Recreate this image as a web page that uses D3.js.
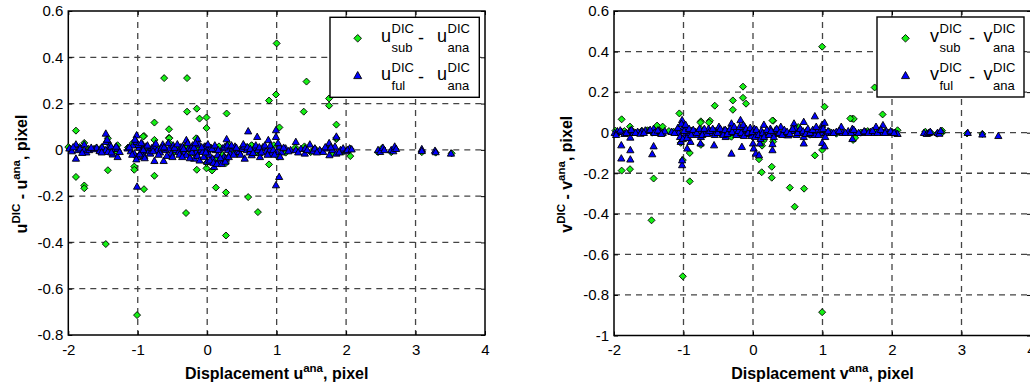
<!DOCTYPE html>
<html>
<head>
<meta charset="utf-8">
<script src="https://cdn.jsdelivr.net/npm/d3@7"></script>
<style>
  body { margin: 0; background: #fff; }
  svg { display: block; font-family: "Liberation Sans", Arial, sans-serif; }
</style>
</head>
<body>
<svg id="chart" width="1030" height="387"></svg>
<script>
const xTicks = [-2, -1, 0, 1, 2, 3, 4];
const uTicks = [-0.8, -0.6, -0.4, -0.2, 0, 0.2, 0.4, 0.6];
const vTicks = [-1, -0.8, -0.6, -0.4, -0.2, 0, 0.2, 0.4, 0.6];

// u panel, subset DIC - analytic (green diamonds)
const uSub = [
  [1.00,0.46],[-0.62,0.31],[-0.29,0.31],[1.43,0.295],[0.99,0.239],[0.89,0.213],[1.755,0.222],[1.755,0.191],
  [1.39,0.165],[-0.29,0.165],[-0.15,0.178],[-0.11,0.135],[-0.01,0.14],[0.28,0.157],[-0.76,0.118],[-0.01,0.094],
  [-0.55,0.089],[1.86,0.109],[-1.89,0.083],[1.04,0.097],[-0.91,0.06],[-0.55,0.052],[1.86,0.046],[-1.43,-0.088],
  [-1.05,-0.072],[-1.05,-0.086],[-0.15,-0.086],[0.07,-0.089],[-1.89,-0.117],[-0.76,-0.112],[-1.77,-0.154],
  [-1.77,-0.166],[-0.91,-0.17],[0.125,-0.163],[0.27,-0.184],[0.59,-0.204],[-0.305,-0.273],[0.73,-0.269],
  [0.27,-0.37],[-1.46,-0.407],[-1.01,-0.714],[0.89,-0.063],[2.06,-0.027],[-0.01,-0.08],[-0.01,-0.057],
  [0.27,-0.057],[0.64,0.019],
  [-2.0,0.012],[-1.97,0.005],[-1.84,0.012],[-1.77,0.03],[-1.71,0.005],[-1.6,0.008],[-1.52,0.01],[-1.43,0.05],
  [-1.43,0.03],[-1.40,-0.01],[-1.35,0.0],[-1.29,0.02],[-1.29,-0.01],[-1.14,0.01],[-1.07,0.03],[-1.05,-0.022],
  [-1.01,0.02],[-0.92,0.058],[-0.92,-0.008],[-0.85,0.005],[-0.76,0.043],[-0.70,0.0],[-0.547,0.05],[-0.547,0.03],
  [-0.49,-0.01],[-0.41,0.012],[-0.35,-0.005],[-0.30,0.02],[-0.23,-0.015],[-0.16,0.05],[-0.12,0.0],[-0.02,-0.022],
  [0.05,0.01],[0.12,-0.037],[0.17,0.015],[0.22,-0.022],[0.3,0.024],[0.36,-0.01],[0.44,-0.015],[0.5,0.008],
  [0.56,0.012],[0.64,0.02],[0.7,-0.012],[0.76,-0.02],[0.82,0.01],[0.9,-0.01],[0.96,0.02],[1.02,-0.03],[1.08,0.0],
  [1.13,-0.012],[1.27,0.01],[1.4,0.015],[1.49,-0.01],[1.55,0.005],[1.63,-0.005],[1.72,0.01],[1.8,-0.015],
  [1.86,0.052],[1.96,-0.008],[2.06,0.005],[2.46,-0.01],[2.52,0.008],[2.65,-0.01],[2.7,0.005],[3.09,-0.01],
  [3.29,-0.012],[3.52,-0.015]
];

// u panel, full-field DIC - analytic (blue triangles)
const uFul = [
  [-1.985,0.007],[-1.95,-0.005],[-1.89,0.024],[-1.89,-0.037],[-1.86,0.0],[-1.83,0.007],[-1.77,0.024],[-1.77,0.0],
  [-1.74,-0.01],[-1.70,0.0],[-1.63,0.004],[-1.59,0.01],[-1.55,-0.004],[-1.515,0.012],[-1.46,0.071],[-1.46,0.035],
  [-1.46,0.0],[-1.43,-0.008],[-1.40,0.02],[-1.385,0.015],[-1.36,-0.019],[-1.33,0.005],[-1.29,-0.03],[-1.29,0.007],
  [-1.26,-0.008],[-1.145,0.007],[-1.10,-0.005],[-1.07,0.02],[-1.05,-0.015],[-1.016,0.064],[-1.016,0.035],
  [-1.01,-0.158],[-1.0,-0.03],[-0.98,0.01],[-0.954,-0.008],[-0.93,0.025],[-0.906,-0.025],[-0.88,0.015],
  [-0.84,-0.005],[-0.80,0.008],[-0.77,0.015],[-0.76,-0.047],[-0.72,0.0],[-0.68,-0.01],[-0.64,0.024],
  [-0.627,-0.047],[-0.60,0.0],[-0.547,0.007],[-0.52,-0.015],[-0.49,0.02],[-0.45,0.0],[-0.41,-0.008],[-0.38,0.012],
  [-0.355,0.015],[-0.33,-0.01],[-0.30,0.043],[-0.30,-0.022],[-0.27,0.005],[-0.235,0.007],[-0.21,0.02],
  [-0.187,-0.037],[-0.16,-0.01],[-0.138,0.047],[-0.12,0.024],[-0.09,0.0],[-0.066,-0.008],[-0.04,0.015],
  [-0.019,0.015],[0.0,-0.051],[0.0,0.0],[0.03,-0.02],[0.05,0.01],[0.078,-0.037],[0.10,-0.073],[0.12,0.0],
  [0.15,-0.022],[0.17,-0.045],[0.197,-0.051],[0.22,0.007],[0.24,-0.03],[0.28,0.047],[0.27,-0.037],[0.3,0.0],
  [0.33,-0.015],[0.366,0.007],[0.40,0.015],[0.43,-0.01],[0.46,-0.008],[0.5,0.005],[0.53,0.015],[0.54,-0.037],
  [0.57,0.0],[0.59,0.081],[0.61,-0.01],[0.64,-0.022],[0.68,0.01],[0.72,0.057],[0.73,0.0],[0.76,-0.03],[0.80,0.012],
  [0.85,-0.005],[0.88,0.043],[0.90,0.0],[0.93,-0.015],[0.99,0.086],[0.99,0.057],[1.0,-0.007],[0.99,-0.152],
  [1.036,-0.116],[1.04,0.015],[1.07,-0.01],[1.13,0.007],[1.2,0.0],[1.276,0.035],[1.276,0.0],[1.35,0.005],
  [1.406,-0.015],[1.41,0.007],[1.478,0.024],[1.52,-0.005],[1.55,0.007],[1.62,0.0],[1.67,-0.008],[1.727,0.007],
  [1.756,0.03],[1.76,-0.022],[1.80,0.0],[1.84,0.015],[1.86,0.058],[1.86,-0.015],[1.92,0.0],[1.957,0.007],
  [2.0,-0.005],[2.05,0.007],[2.46,0.0],[2.49,-0.008],[2.53,0.01],[2.55,0.0],[2.65,0.0],[2.68,-0.005],[2.70,0.015],
  [2.72,0.005],[3.09,0.004],[3.09,-0.004],[3.28,-0.003],[3.29,-0.009],[3.51,-0.015],
  [-1.93,0.012],[-1.80,-0.012],[-1.67,0.01],[-1.52,-0.01],[-1.44,0.045],[-1.38,-0.01],[-1.31,0.015],[-1.12,0.012],
  [-1.08,-0.02],[-1.04,0.045],[-1.02,-0.04],[-0.99,0.022],[-0.97,-0.018],[-0.95,0.03],[-0.92,0.0],[-0.9,-0.035],
  [-0.86,0.02],[-0.82,-0.015],[-0.78,-0.005],[-0.74,0.028],[-0.7,-0.02],[-0.66,0.008],[-0.62,0.012],[-0.58,-0.025],
  [-0.56,0.03],[-0.5,-0.03],[-0.47,0.01],[-0.43,0.025],[-0.4,-0.02],[-0.36,-0.03],[-0.34,0.005],[-0.28,0.03],
  [-0.25,-0.035],[-0.22,-0.01],[-0.19,0.01],[-0.17,0.03],[-0.14,-0.025],[-0.11,-0.045],[-0.08,0.012],[-0.05,-0.03],
  [-0.02,-0.01],[0.01,0.025],[0.04,-0.045],[0.07,0.005],[0.09,-0.055],[0.11,0.02],[0.14,-0.06],[0.16,0.0],
  [0.19,-0.035],[0.21,-0.06],[0.25,0.012],[0.26,-0.05],[0.29,0.02],[0.31,-0.03],[0.35,0.02],[0.38,-0.02],
  [0.42,0.01],[0.48,-0.02],[0.52,0.025],[0.58,0.012],[0.62,0.005],[0.66,-0.012],[0.7,0.02],[0.75,0.012],
  [0.78,-0.01],[0.83,0.02],[0.87,-0.02],[0.91,0.02],[0.95,0.0],[0.97,-0.02],[1.02,0.03],[1.05,-0.03],[1.1,0.01],
  [1.17,-0.005],[1.31,-0.01],[1.44,0.0],[1.58,-0.01],[1.7,0.012],[1.78,0.012],[1.9,-0.01],[2.02,0.0],[2.08,0.003]
];

// v panel, subset DIC - analytic (green diamonds)
const vSub = [
  [0.995,0.424],[-0.144,0.227],[-0.144,0.172],[-0.10,0.143],[-0.29,0.159],[-0.29,0.113],[-0.55,0.133],
  [1.75,0.223],[1.03,0.128],[-1.06,0.095],[1.865,0.09],[-1.89,0.066],[-0.62,0.059],[-0.75,0.056],[0.29,0.059],
  [1.43,0.069],[1.45,0.068],[-1.77,0.03],[-1.38,0.035],[-1.30,0.03],[0.89,-0.112],[0.995,-0.085],[-1.01,-0.135],
  [-0.91,-0.10],[-0.91,-0.24],[-1.89,-0.187],[-1.77,-0.18],[-1.43,-0.226],[-1.46,-0.432],[-1.01,-0.708],
  [0.995,-0.885],[0.086,-0.131],[0.125,-0.195],[0.27,-0.168],[0.27,-0.222],[0.53,-0.271],[0.735,-0.276],
  [0.60,-0.365],[-0.75,-0.06],[0.13,-0.064],[1.44,-0.036],[0.29,-0.044],[-1.04,-0.05],[0.15,-0.04],
  [-1.98,0.01],[-1.93,0.0],[-1.85,0.008],[-1.72,0.005],[-1.60,0.01],[-1.52,0.012],[-1.45,0.0],[-1.33,0.005],
  [-1.21,0.008],[-1.14,0.005],[-1.07,0.0],[-0.98,0.015],[-0.86,0.005],[-0.755,0.02],[-0.755,0.05],[-0.635,0.05],
  [-0.56,0.01],[-0.47,-0.005],[-0.39,0.01],[-0.31,-0.02],[-0.25,0.005],[-0.2,0.015],[-0.08,0.0],[0.0,0.01],
  [0.06,-0.01],[0.2,0.005],[0.28,0.06],[0.35,0.005],[0.45,-0.01],[0.58,0.01],[0.65,0.028],[0.75,0.0],[0.82,-0.01],
  [0.9,0.01],[1.1,0.005],[1.2,-0.005],[1.40,0.07],[1.47,-0.025],[1.55,0.0],[1.65,0.008],[1.78,0.01],[1.9,0.005],
  [2.08,0.012],[2.48,0.005],[2.56,0.0],[2.65,-0.005],[2.72,0.01],[2.72,0.0],[3.08,-0.004],[3.3,-0.006]
];

// v panel, full-field DIC - analytic (blue triangles)
const vFul = [
  [-1.99,0.0],[-1.95,0.008],[-1.895,-0.061],[-1.895,-0.126],[-1.89,0.005],[-1.85,-0.005],[-1.77,0.01],
  [-1.765,-0.085],[-1.765,-0.131],[-1.765,-0.023],[-1.72,0.0],[-1.66,0.005],[-1.60,0.008],[-1.55,0.012],
  [-1.50,0.01],[-1.45,-0.105],[-1.43,-0.066],[-1.43,0.02],[-1.40,0.0],[-1.35,0.01],[-1.30,0.0],[-1.27,0.008],
  [-1.17,0.005],[-1.10,0.01],[-1.07,0.0],[-1.04,-0.044],[-1.02,-0.159],[-1.02,-0.135],[-1.02,0.063],[-1.0,0.03],
  [-0.98,-0.01],[-0.96,0.02],[-0.947,-0.077],[-0.93,0.0],[-0.90,-0.044],[-0.88,0.01],[-0.83,0.005],[-0.79,-0.01],
  [-0.755,-0.052],[-0.75,-0.02],[-0.72,0.01],[-0.68,0.0],[-0.64,0.02],[-0.60,0.0],[-0.56,-0.061],[-0.53,0.01],
  [-0.49,0.03],[-0.45,0.0],[-0.42,0.012],[-0.394,-0.02],[-0.36,0.005],[-0.31,-0.102],[-0.31,0.046],[-0.28,0.0],
  [-0.25,0.015],[-0.22,-0.01],[-0.18,0.063],[-0.16,-0.069],[-0.15,0.01],[-0.12,0.03],[-0.09,-0.005],[-0.05,0.01],
  [-0.02,-0.015],[0.0,-0.052],[0.01,-0.077],[0.02,0.02],[0.04,-0.102],[0.06,0.0],[0.087,-0.11],[0.10,-0.052],
  [0.12,0.01],[0.157,0.04],[0.18,-0.01],[0.22,0.005],[0.25,0.02],[0.28,-0.085],[0.28,-0.055],[0.28,0.0],
  [0.32,0.012],[0.36,-0.005],[0.40,0.03],[0.43,0.0],[0.47,0.0],[0.51,-0.012],[0.55,0.01],[0.59,0.046],[0.61,0.02],
  [0.63,-0.01],[0.66,0.01],[0.70,0.0],[0.73,0.054],[0.73,-0.052],[0.73,-0.02],[0.77,0.01],[0.80,0.0],[0.84,-0.008],
  [0.89,0.082],[0.89,0.0],[0.89,-0.01],[0.93,0.012],[0.996,-0.049],[0.996,0.04],[1.0,0.0],[1.03,-0.066],
  [1.03,0.05],[1.05,0.0],[1.13,0.0],[1.2,0.005],[1.27,0.03],[1.29,0.0],[1.37,0.008],[1.43,0.02],[1.43,-0.03],
  [1.47,0.005],[1.57,0.0],[1.62,0.004],[1.69,0.005],[1.74,0.0],[1.77,0.03],[1.82,0.01],[1.87,0.038],[1.87,0.0],
  [1.92,0.008],[1.955,0.0],[2.0,0.004],[2.05,0.0],[2.08,-0.005],[2.46,0.0],[2.5,-0.005],[2.53,0.0],[2.55,0.005],
  [2.655,0.0],[2.68,-0.004],[2.70,0.01],[3.09,0.0],[3.30,-0.008],[3.53,-0.015],
  [-1.97,-0.01],[-1.91,0.012],[-1.82,0.0],[-1.75,0.015],[-1.69,0.0],[-1.62,-0.004],[-1.57,0.0],[-1.48,0.015],
  [-1.42,0.0],[-1.37,0.012],[-1.32,-0.005],[-1.13,0.0],[-1.08,0.025],[-1.05,-0.02],[-1.03,0.045],[-1.01,-0.03],
  [-0.99,0.01],[-0.97,0.04],[-0.95,-0.025],[-0.92,0.02],[-0.89,-0.01],[-0.86,0.015],[-0.81,0.0],[-0.77,0.02],
  [-0.73,-0.01],[-0.70,0.02],[-0.66,-0.005],[-0.62,0.01],[-0.58,0.02],[-0.55,-0.01],[-0.51,0.0],[-0.47,0.02],
  [-0.43,-0.01],[-0.40,0.015],[-0.37,-0.005],[-0.33,0.02],[-0.30,0.005],[-0.27,0.03],[-0.24,-0.01],[-0.21,0.01],
  [-0.19,0.03],[-0.17,0.0],[-0.14,0.04],[-0.13,-0.015],[-0.1,0.02],[-0.07,0.0],[-0.04,0.025],[-0.01,0.005],
  [0.03,-0.02],[0.05,0.015],[0.08,-0.01],[0.11,-0.03],[0.14,0.0],[0.16,-0.02],[0.2,0.015],[0.23,-0.01],[0.26,0.01],
  [0.3,-0.02],[0.34,0.02],[0.38,0.0],[0.42,-0.01],[0.45,0.015],[0.49,0.005],[0.53,-0.005],[0.57,0.02],[0.64,0.0],
  [0.68,0.02],[0.72,0.008],[0.76,-0.005],[0.79,0.02],[0.82,0.0],[0.86,0.015],[0.91,0.03],[0.94,-0.01],[0.98,0.015],
  [1.01,0.02],[1.04,-0.02],[1.08,0.008],[1.16,0.0],[1.24,0.01],[1.33,0.0],[1.41,0.0],[1.45,0.015],[1.52,0.0],
  [1.6,0.008],[1.66,0.0],[1.72,0.01],[1.79,0.0],[1.84,0.015],[1.9,0.0],[1.98,0.008],[2.03,0.0]
];

const svg = d3.select('#chart');
const green = '#14f014', blue = '#0000ff';
const diamond = r => `M0,${-r}L${r},0L0,${r}L${-r},0Z`;
const triangle = r => `M0,${-r}L${r},${r * 0.78}L${-r},${r * 0.78}Z`;

function drawPanel(cfg) {
  const x = d3.scaleLinear().domain([-2, 4]).range([cfg.left, cfg.right]);
  const y = d3.scaleLinear().domain(d3.extent(cfg.yTicks)).range([cfg.bottom, cfg.top]);
  const g = svg.append('g');

  // dashed grid
  g.append('g').selectAll('line').data(xTicks.slice(1, -1)).join('line')
    .attr('x1', d => x(d)).attr('x2', d => x(d))
    .attr('y1', cfg.top).attr('y2', cfg.bottom);
  g.append('g').selectAll('line').data(cfg.yTicks.slice(1, -1)).join('line')
    .attr('y1', d => y(d)).attr('y2', d => y(d))
    .attr('x1', cfg.left).attr('x2', cfg.right);
  g.selectAll('line').attr('stroke', '#444').attr('stroke-width', 1.3).attr('stroke-dasharray', '6,5');

  const fmt = d => String(d);
  const style = a => { a.select('.domain').remove(); a.attr('font-size', 15).attr('font-family', null).attr('color', '#000'); };

  g.append('g').attr('transform', `translate(0,${cfg.bottom})`)
    .call(d3.axisBottom(x).tickValues(xTicks).tickSize(-4).tickPadding(9.3).tickFormat(fmt)).call(style);
  g.append('g').attr('transform', `translate(${cfg.left},0)`)
    .call(d3.axisLeft(y).tickValues(cfg.yTicks).tickSize(-4).tickPadding(5).tickFormat(fmt)).call(style);
  g.append('g').attr('transform', `translate(0,${cfg.top})`)
    .call(d3.axisTop(x).tickValues(xTicks).tickSize(-4).tickFormat('')).call(style);
  g.append('g').attr('transform', `translate(${cfg.right},0)`)
    .call(d3.axisRight(y).tickValues(cfg.yTicks).tickSize(-4).tickFormat('')).call(style);

  g.append('rect').attr('x', cfg.left).attr('y', cfg.top)
    .attr('width', cfg.right - cfg.left).attr('height', cfg.bottom - cfg.top)
    .attr('fill', 'none').attr('stroke', '#000').attr('stroke-width', 1.5);

  // markers
  g.append('g').selectAll('path').data(cfg.sub).join('path')
    .attr('transform', d => `translate(${x(d[0])},${y(d[1])})`)
    .attr('d', diamond(3.5)).attr('fill', green).attr('stroke', '#000').attr('stroke-width', 0.9);
  g.append('g').selectAll('path').data(cfg.ful).join('path')
    .attr('transform', d => `translate(${x(d[0])},${y(d[1])})`)
    .attr('d', triangle(3.6)).attr('fill', blue).attr('stroke', '#000').attr('stroke-width', 0.9);

  // axis labels
  const xl = g.append('text')
    .attr('x', (cfg.left + cfg.right) / 2).attr('y', 379)
    .attr('text-anchor', 'middle').attr('font-weight', 'bold').attr('font-size', 16);
  xl.append('tspan').text('Displacement ' + cfg.letter);
  xl.append('tspan').attr('font-size', 11.5).attr('dy', -7).text('ana');
  xl.append('tspan').attr('dy', 7).text(', pixel');

  const yl = g.append('text')
    .attr('transform', `translate(${cfg.ylabX},${(cfg.top + cfg.bottom) / 2 + 1}) rotate(-90)`)
    .attr('text-anchor', 'middle').attr('font-weight', 'bold').attr('font-size', 16);
  yl.append('tspan').text(cfg.letter);
  yl.append('tspan').attr('font-size', 11.5).attr('dy', -7).text('DIC');
  yl.append('tspan').attr('dy', 7).text(' - ' + cfg.letter);
  yl.append('tspan').attr('font-size', 11.5).attr('dy', -7).text('ana');
  yl.append('tspan').attr('dy', 7).text(', pixel');

  // legend
  const L = cfg.legend;
  const lg = g.append('g');
  lg.append('rect').attr('x', L.x).attr('y', L.y).attr('width', L.w).attr('height', L.h)
    .attr('fill', '#fff').attr('stroke', '#000').attr('stroke-width', 1.4);
  lg.append('path').attr('transform', `translate(${L.mx},38.3)`).attr('d', diamond(3.8))
    .attr('fill', green).attr('stroke', '#000').attr('stroke-width', 0.9);
  lg.append('path').attr('transform', `translate(${L.mx},75.5)`).attr('d', triangle(4))
    .attr('fill', blue).attr('stroke', '#000').attr('stroke-width', 0.9);

  const rows = [[41.7, 'sub'], [80, 'ful']];
  rows.forEach(([yb, sub]) => {
    const term = (x0, s) => {
      const t = lg.append('text').attr('x', x0).attr('y', yb).attr('font-size', 18).text(cfg.letter);
      const w = t.node().getComputedTextLength();
      lg.append('text').attr('x', x0 + w + 0.5).attr('y', yb - 8.4).attr('font-size', 13).text('DIC');
      lg.append('text').attr('x', x0 + w + 0.5).attr('y', yb + 10).attr('font-size', 13).text(s);
    };
    term(L.tx, sub);
    lg.append('text').attr('x', L.tx + L.hyph).attr('y', yb + 2.5).attr('font-size', 18).text('-');
    term(L.tx + L.second, 'ana');
  });
}

drawPanel({
  left: 68.3, right: 485, top: 11, bottom: 335, yTicks: uTicks,
  sub: uSub, ful: uFul, letter: 'u', ylabX: 27,
  legend: { x: 330, y: 17.3, w: 149.3, h: 80, mx: 357.7, tx: 381, hyph: 37, second: 56 }
});
drawPanel({
  left: 614, right: 1031, top: 11, bottom: 335.5, yTicks: vTicks,
  sub: vSub, ful: vFul, letter: 'v', ylabX: 571.7,
  legend: { x: 877, y: 17, w: 147, h: 80, mx: 905.5, tx: 930, hyph: 39, second: 53.5 }
});
</script>
</body>
</html>
